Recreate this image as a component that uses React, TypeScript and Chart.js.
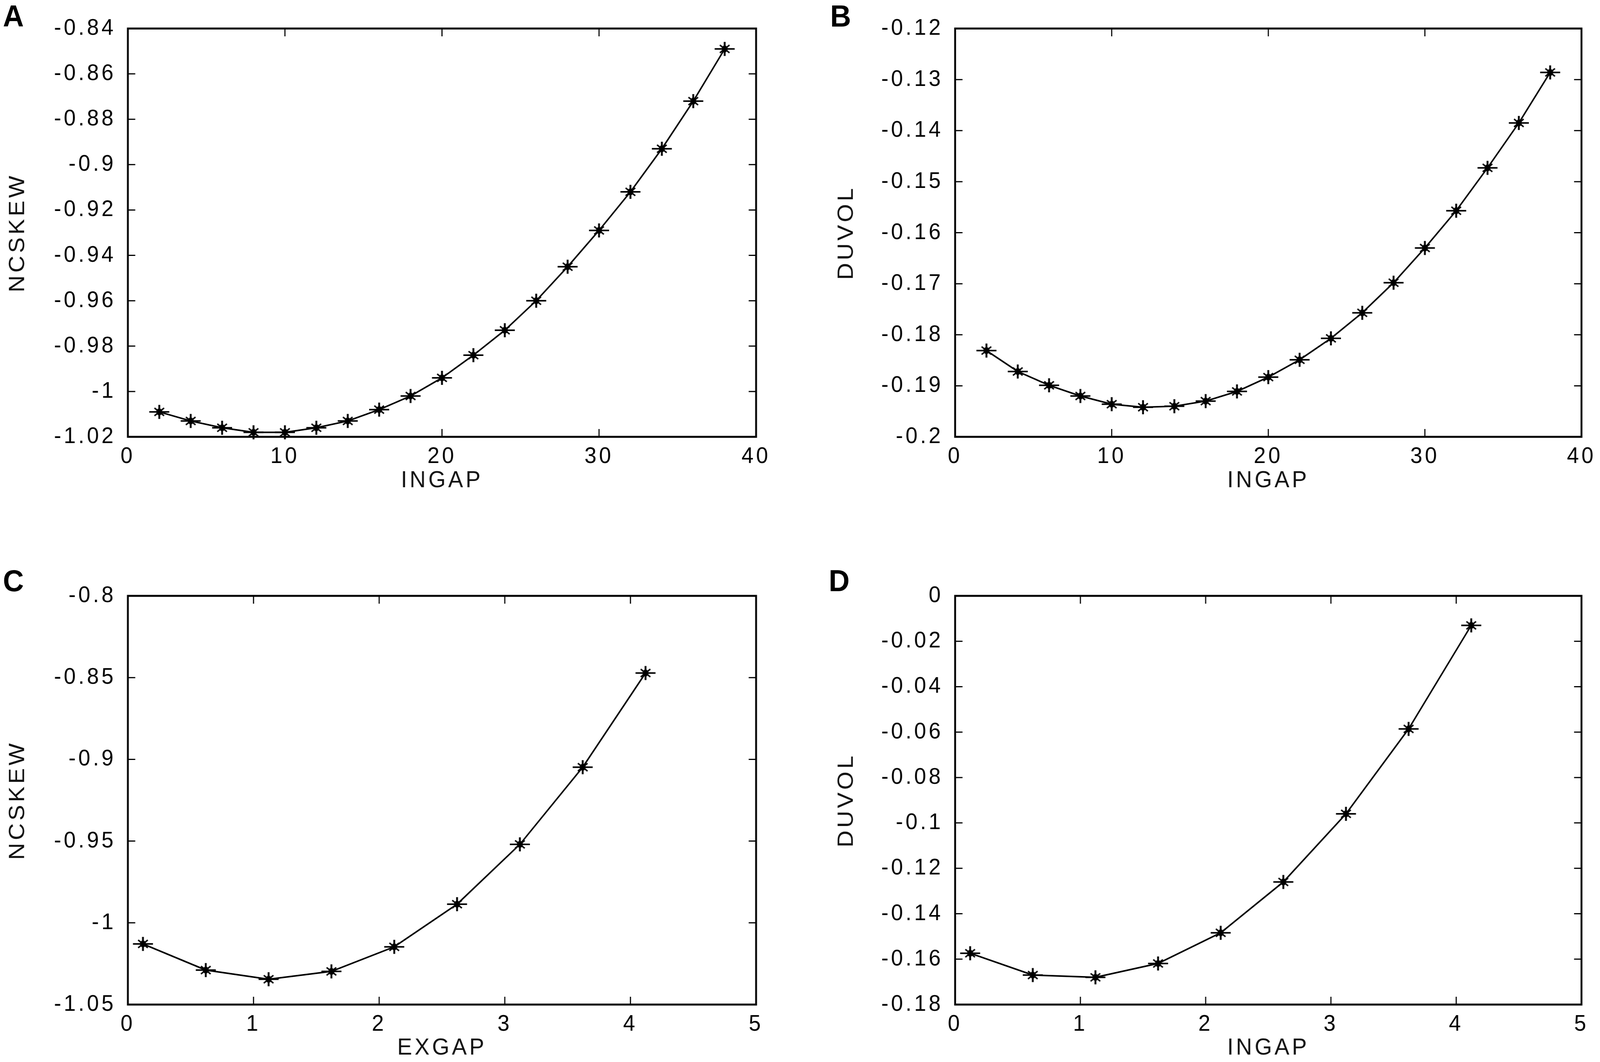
import React, { useEffect, useRef } from 'react';
import { Chart, registerables } from 'chart.js';

Chart.register(...registerables);

// x values
const ingapX = [2, 4, 6, 8, 10, 12, 14, 16, 18, 20, 22, 24, 26, 28, 30, 32, 34, 36, 38];
const gapX5 = [0.12, 0.62, 1.12, 1.62, 2.12, 2.62, 3.12, 3.62, 4.12];

// y values per panel
const ncskewA = [-1.009, -1.013, -1.016, -1.018, -1.018, -1.016, -1.013, -1.008, -1.002, -0.994, -0.984, -0.973, -0.96, -0.945, -0.929, -0.912, -0.893, -0.872, -0.849];
const duvolB = [-0.1831, -0.1872, -0.1899, -0.192, -0.1936, -0.1942, -0.194, -0.193, -0.1911, -0.1883, -0.1849, -0.1807, -0.1757, -0.1698, -0.163, -0.1557, -0.1473, -0.1385, -0.1286];
const ncskewC = [-1.0129, -1.0289, -1.0345, -1.0297, -1.0147, -0.9886, -0.952, -0.9048, -0.8472];
const duvolD = [-0.1574, -0.167, -0.168, -0.1619, -0.1484, -0.126, -0.096, -0.0586, -0.013];

// axis ranges: [min, max, step]
const xRange40 = [0, 40, 10];
const xRange5 = [0, 5, 1];
const yRangeA = [-1.02, -0.84, 0.02];
const yRangeB = [-0.2, -0.12, 0.01];
const yRangeC = [-1.05, -0.8, 0.05];
const yRangeD = [-0.18, 0, 0.02];

const PAGE_W = 4317;
const PAGE_H = 2718;
const FONT = '"Liberation Sans", Arial, sans-serif';
const TICK_LEN = 20;

const fmt = (v: number | string) => String(Number(Number(v).toFixed(4)));

// asterisk marker, a bit wider than tall like the stretched original
let markerCache: HTMLCanvasElement | null = null;
function getMarker() {
  if (markerCache) return markerCache;
  const c = document.createElement('canvas');
  c.width = 58;
  c.height = 40;
  const g = c.getContext('2d')!;
  const cx = 29, cy = 20;
  g.strokeStyle = '#000';
  g.fillStyle = '#000';
  g.lineCap = 'butt';
  g.lineWidth = 4;
  g.beginPath();
  g.moveTo(2, cy); g.lineTo(56, cy);
  g.stroke();
  g.lineWidth = 5;
  g.beginPath();
  g.moveTo(cx, 2); g.lineTo(cx, 38);
  g.stroke();
  g.lineWidth = 4;
  g.beginPath();
  g.moveTo(cx - 13, cy - 10); g.lineTo(cx + 13, cy + 10);
  g.moveTo(cx + 13, cy - 10); g.lineTo(cx - 13, cy + 10);
  g.stroke();
  g.beginPath();
  g.ellipse(cx, cy, 8, 9, 0, 0, Math.PI * 2);
  g.fill();
  markerCache = c;
  return c;
}

// draws the closed box with inward ticks on all four sides
const boxPlugin = {
  id: 'matlabBox',
  beforeDraw(chart: any) {
    (chart.ctx as any).letterSpacing = '7px';
  },
  afterDraw(chart: any) {
    const { ctx, chartArea, scales } = chart;
    const { left, right, top, bottom } = chartArea;
    ctx.save();
    ctx.strokeStyle = '#000';
    ctx.lineWidth = 3;
    ctx.beginPath();
    scales.x.ticks.forEach((t: any) => {
      const px = scales.x.getPixelForValue(t.value);
      ctx.moveTo(px, bottom);
      ctx.lineTo(px, bottom - TICK_LEN);
      ctx.moveTo(px, top);
      ctx.lineTo(px, top + TICK_LEN);
    });
    scales.y.ticks.forEach((t: any) => {
      const py = scales.y.getPixelForValue(t.value);
      ctx.moveTo(left, py);
      ctx.lineTo(left + TICK_LEN, py);
      ctx.moveTo(right, py);
      ctx.lineTo(right - TICK_LEN, py);
    });
    ctx.stroke();
    ctx.lineWidth = 5;
    ctx.strokeRect(left, top, right - left, bottom - top);
    ctx.restore();
  },
};

interface Rect { left: number; top: number; width: number; height: number }
interface PlotBox { left: number; top: number; right: number; bottom: number }

interface PanelProps {
  letter: string;
  letterPos: [number, number];
  canvas: Rect;
  plot: PlotBox;
  xs: number[];
  ys: number[];
  xRange: number[];
  yRange: number[];
  xTitle: string;
  yTitle: string;
  yTitleX: number;
  xTitleY: number;
}

const Panel: React.FC<PanelProps> = (p) => {
  const chartRef = useRef<HTMLCanvasElement>(null);
  const chartInstance = useRef<Chart>();

  useEffect(() => {
    if (!chartRef.current) return;
    const ctx = chartRef.current.getContext('2d');
    if (!ctx) return;
    if (chartInstance.current) chartInstance.current.destroy();

    const yW = p.plot.left - p.canvas.left;
    const padTop = p.plot.top - p.canvas.top;
    const padRight = p.canvas.left + p.canvas.width - p.plot.right;
    const xH = p.canvas.top + p.canvas.height - p.plot.bottom;
    const lh = 60 * 1.2;
    const yTitlePad = Math.max(0, p.yTitleX - p.canvas.left - lh / 2);
    const xTitlePad = Math.max(0, p.canvas.top + p.canvas.height - lh / 2 - p.xTitleY);

    chartInstance.current = new Chart(ctx, {
      type: 'line',
      data: {
        datasets: [{
          data: p.xs.map((x, i) => ({ x, y: p.ys[i] })),
          borderColor: '#000',
          borderWidth: 4,
          tension: 0,
          pointStyle: getMarker(),
          pointRadius: 25,
          clip: false,
        }],
      },
      options: {
        animation: false,
        responsive: false,
        devicePixelRatio: 1,
        layout: { padding: { top: padTop, right: padRight, bottom: 0, left: 0 } },
        plugins: { legend: { display: false }, tooltip: { enabled: false } },
        scales: {
          x: {
            type: 'linear',
            min: p.xRange[0],
            max: p.xRange[1],
            grid: { display: false },
            border: { display: false },
            ticks: {
              stepSize: p.xRange[2],
              autoSkip: false,
              maxRotation: 0,
              padding: 8,
              color: '#000',
              font: { family: FONT, size: 58 },
              callback: fmt,
            },
            title: {
              display: true,
              text: p.xTitle,
              color: '#111',
              font: { family: FONT, size: 60 },
              padding: { top: 0, bottom: xTitlePad },
            },
            afterFit: (s: any) => { s.height = xH; },
          },
          y: {
            type: 'linear',
            min: p.yRange[0],
            max: p.yRange[1],
            grid: { display: false },
            border: { display: false },
            ticks: {
              stepSize: p.yRange[2],
              autoSkip: false,
              padding: 24,
              color: '#000',
              font: { family: FONT, size: 58 },
              callback: fmt,
            },
            title: {
              display: true,
              text: p.yTitle,
              color: '#111',
              font: { family: FONT, size: 60 },
              padding: { top: yTitlePad, bottom: 0 },
            },
            afterFit: (s: any) => { s.width = yW; },
          },
        },
      },
      plugins: [boxPlugin],
    } as any);

    return () => {
      if (chartInstance.current) {
        chartInstance.current.destroy();
        chartInstance.current = undefined;
      }
    };
  }, [p]);

  return (
    <>
      <canvas
        ref={chartRef}
        width={p.canvas.width}
        height={p.canvas.height}
        style={{ position: 'absolute', left: p.canvas.left, top: p.canvas.top, width: p.canvas.width, height: p.canvas.height }}
      />
      <div
        style={{
          position: 'absolute',
          left: p.letterPos[0],
          top: p.letterPos[1],
          fontFamily: FONT,
          fontWeight: 'bold',
          fontSize: 78,
          lineHeight: 1,
          color: '#000',
        }}
      >
        {p.letter}
      </div>
    </>
  );
};

const panels: PanelProps[] = [
  {
    letter: 'A', letterPos: [8, 2],
    canvas: { left: 0, top: 0, width: 2160, height: 1300 },
    plot: { left: 345, top: 73, right: 2040, bottom: 1118 },
    xs: ingapX, ys: ncskewA, xRange: xRange40, yRange: yRangeA,
    xTitle: 'INGAP', yTitle: 'NCSKEW', yTitleX: 48, xTitleY: 1230,
  },
  {
    letter: 'B', letterPos: [2240, 2],
    canvas: { left: 2160, top: 0, width: 2157, height: 1300 },
    plot: { left: 2577, top: 73, right: 4267, bottom: 1118 },
    xs: ingapX, ys: duvolB, xRange: xRange40, yRange: yRangeB,
    xTitle: 'INGAP', yTitle: 'DUVOL', yTitleX: 2284, xTitleY: 1230,
  },
  {
    letter: 'C', letterPos: [8, 1447],
    canvas: { left: 0, top: 1400, width: 2160, height: 1318 },
    plot: { left: 345, top: 1525, right: 2040, bottom: 2571 },
    xs: gapX5, ys: ncskewC, xRange: xRange5, yRange: yRangeC,
    xTitle: 'EXGAP', yTitle: 'NCSKEW', yTitleX: 48, xTitleY: 2686,
  },
  {
    letter: 'D', letterPos: [2236, 1447],
    canvas: { left: 2160, top: 1400, width: 2157, height: 1318 },
    plot: { left: 2577, top: 1525, right: 4267, bottom: 2571 },
    xs: gapX5, ys: duvolD, xRange: xRange5, yRange: yRangeD,
    xTitle: 'INGAP', yTitle: 'DUVOL', yTitleX: 2284, xTitleY: 2686,
  },
];

export default function App() {
  // fit the fixed 4317x2718 layout into whatever viewport the browser really has
  const vw = window.innerWidth || PAGE_W;
  const vh = window.innerHeight || PAGE_H;
  const sx = vw / PAGE_W;
  const sy = vh / PAGE_H;

  useEffect(() => {
    document.documentElement.style.overflow = 'hidden';
    document.body.style.overflow = 'hidden';
  }, []);

  return (
    <div
      style={{
        position: 'fixed',
        left: 0,
        top: 0,
        width: PAGE_W,
        height: PAGE_H,
        background: '#fff',
        overflow: 'hidden',
        transform: `scale(${sx}, ${sy})`,
        transformOrigin: '0 0',
      }}
    >
      {panels.map((p) => (
        <Panel key={p.letter} {...p} />
      ))}
    </div>
  );
}
